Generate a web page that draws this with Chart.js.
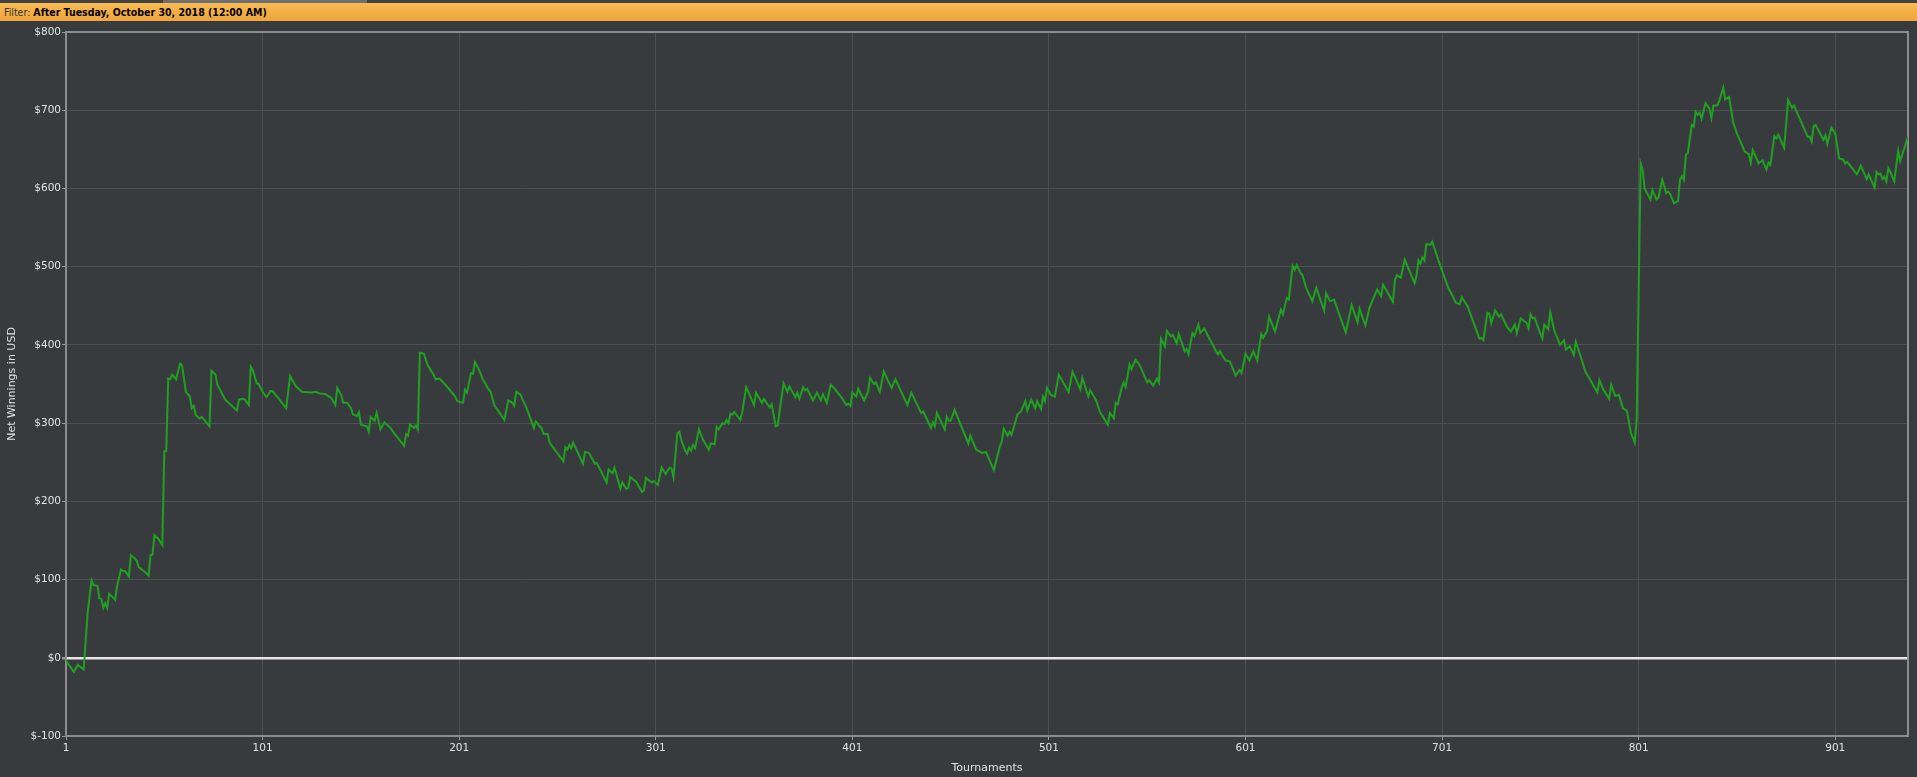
<!DOCTYPE html>
<html>
<head>
<meta charset="utf-8">
<script src="https://cdn.jsdelivr.net/npm/chart.js@4.4.1/dist/chart.umd.min.js"></script>
<style>
  html, body { margin: 0; padding: 0; background: #383b3e; overflow: hidden; }
  #wrap { position: absolute; left: 0; top: 0; width: 1917px; height: 777px; }
  #topstrip { position: absolute; left: 0; top: 0; width: 1917px; height: 3px; background: #3f4143; z-index: 3; }
  #topstrip .seg { position: absolute; left: 163px; top: 0; width: 204px; height: 3px; background: #6d6f71; }
  #filter { position: absolute; left: 0; top: 3px; width: 1917px; height: 18px; z-index: 2;
    background: linear-gradient(#f8bb52, #f0a43c); font-family: 'DejaVu Sans Condensed', 'DejaVu Sans', Verdana, sans-serif;
    font-stretch: condensed; font-size: 10.5px; line-height: 18px; color: #1a1a1a; padding-left: 4px; box-sizing: border-box; white-space: nowrap; }
  #filter b { font-weight: bold; color: #000; }
  #filter span { color: #333; }
  canvas { position: absolute; left: 0; top: 0; }
</style>
</head>
<body>
<div id="wrap">
  <div id="topstrip"><div class="seg"></div></div>
  <div id="filter"><span>Filter:</span> <b>After Tuesday, October 30, 2018 (12:00 AM)</b></div>
  <canvas id="c" width="1917" height="777"></canvas>
</div>
<script>
// ---- data ----
const tournaments = [
  1,5,7,10,12,14,15,17,18,19,20,21,22,23,26,27,29,30,31,33,34,36,37,38,41,43,44,45,46,48,50,51,52,53,54,55,57,59,60,62,64,65,66,67,69,70,74,75,77,78,82,88,89,91,92,94,95,96,98,99,101,103,
  105,106,108,113,115,117,118,121,126,128,130,133,136,138,139,141,142,144,146,147,149,150,151,154,155,156,158,159,161,163,166,168,173,174,175,176,178,179,180,181,183,185,188,189,191,194,199,200,203,204,205,207,208,209,211,
  213,216,217,219,220,224,226,228,229,230,232,235,239,240,243,244,246,247,254,255,256,257,258,259,264,265,267,270,271,276,277,279,280,283,284,286,287,288,291,294,295,296,299,300,302,304,306,308,309,310,312,313,314,316,
  317,318,319,320,321,323,325,328,329,331,332,333,335,336,337,338,339,340,341,344,345,347,351,352,355,356,359,360,362,363,366,368,369,372,373,374,376,377,378,381,383,385,386,388,390,392,396,398,399,400,401,403,404,407,409,410,412,413,415,417,
  419,421,423,429,431,436,437,441,442,443,444,448,449,450,451,453,460,461,464,467,469,473,476,477,478,480,481,482,485,487,489,490,492,494,495,497,498,499,500,502,504,506,511,513,517,518,521,522,
  525,527,528,531,532,534,535,536,538,539,540,542,543,545,547,551,552,554,556,557,558,560,561,563,564,566,567,570,571,572,574,575,577,578,580,586,587,588,589,591,593,596,598,599,601,603,605,607,609,610,612,613,616,619,620,622,623,625,626,627,629,
  630,632,635,637,641,642,644,646,652,655,658,659,662,664,666,668,670,671,676,677,678,680,682,687,688,689,690,691,692,693,695,696,699,704,708,710,711,714,720,721,722,724,725,726,728,730,731,734,
  736,738,739,741,744,745,746,747,748,750,752,753,755,756,758,761,763,764,766,768,769,772,774,776,780,781,783,786,787,789,791,793,795,797,799,800,802,803,804,807,808,810,811,813,815,816,817,819,821,822,823,824,825,826,828,829,830,831,832,833,835,837,838,839,841,842,
  844,845,847,849,851,855,857,858,859,862,864,866,867,868,870,871,872,875,877,879,880,887,888,889,890,891,895,896,897,899,901,903,905,906,907,908,912,914,917,918,921,922,923,924,925,926,927,928,929,931,933,934,938
];
const netWinnings = [
  -4,-18,-9,-15,57,99,93,92,76,75,64,70,64,82,74,92,113,111,111,104,131,127,124,116,110,105,131,132,157,152,144,264,264,357,356,362,356,376,374,340,334,319,322,310,306,308,296,367,362,349,330,316,330,331,330,323,372,368,351,350,340,333,
  341,341,335,319,360,351,347,340,339,340,338,337,332,323,345,336,326,326,319,311,309,314,298,296,289,308,303,313,292,301,294,287,271,286,284,298,294,297,292,390,389,374,362,356,357,349,334,328,326,343,339,364,363,378,369,
  356,343,340,322,319,304,329,326,322,340,337,321,294,302,293,286,286,275,251,269,266,272,268,275,248,263,262,248,249,224,241,236,243,216,224,216,217,231,225,212,214,230,224,226,221,243,235,243,242,231,287,289,278,265,
  261,269,265,272,268,292,279,266,274,273,295,292,300,299,304,300,312,311,314,304,314,346,323,339,326,331,320,324,296,297,351,340,347,333,339,331,346,342,344,329,339,329,337,326,349,344,331,323,325,322,339,334,344,329,340,358,350,352,340,366,
  355,345,356,323,339,313,315,294,301,296,313,292,308,303,303,317,274,284,266,262,263,240,270,276,293,284,289,285,311,316,328,316,330,319,328,318,334,328,345,336,334,362,340,366,343,358,334,342,
  329,314,310,298,313,306,326,324,345,352,346,375,369,381,375,352,355,348,357,352,408,398,418,411,413,402,414,392,395,388,415,411,426,415,421,392,388,392,387,380,379,361,368,364,389,380,392,380,414,409,418,436,417,445,439,460,458,501,496,502,492,
  489,472,456,473,444,466,456,458,416,451,429,446,425,447,459,471,462,477,455,483,489,486,509,479,489,508,504,512,508,529,528,532,509,474,454,452,461,449,408,409,406,441,440,428,444,436,439,423,
  417,426,415,434,428,421,439,434,435,421,408,426,420,442,419,400,406,394,398,387,404,381,365,357,339,355,343,331,349,335,336,319,316,288,275,306,632,624,600,586,598,586,588,611,594,596,593,581,584,611,616,611,643,645,681,679,698,694,697,689,709,702,690,706,706,712,
  729,714,717,685,670,647,644,633,649,632,636,624,633,630,667,664,669,652,713,703,706,666,666,660,680,681,662,668,657,678,670,638,637,632,634,631,618,629,612,618,601,621,618,619,612,615,609,626,621,609,648,635,666
];
const xTickValues = [1, 101, 201, 301, 401, 501, 601, 701, 801, 901];
const yTickValues = [-100, 0, 100, 200, 300, 400, 500, 600, 700, 800];
const xAxisTitle = 'Tournaments';
const yAxisTitle = 'Net Winnings in USD';

const points = tournaments.map((t, i) => ({ x: t, y: netWinnings[i] }));

const FONT = "'DejaVu Sans', Verdana, sans-serif";
Chart.defaults.font.family = FONT;
Chart.defaults.font.size = 10.5;
Chart.defaults.color = '#e2e2e2';

const frame = {
  id: 'frame',
  beforeDatasetsDraw(chart) {
    const { ctx, chartArea: a } = chart;
    ctx.save();
    ctx.strokeStyle = '#8c8c8c';
    ctx.lineWidth = 2;
    ctx.strokeRect(a.left, a.top, a.right - a.left, a.bottom - a.top);
    ctx.restore();
  }
};

new Chart(document.getElementById('c'), {
  type: 'line',
  data: {
    datasets: [{
      data: points,
      borderColor: '#20a020',
      borderWidth: 2,
      pointRadius: 0,
      tension: 0,
      fill: false
    }]
  },
  options: {
    responsive: false,
    animation: false,
    events: [],
    layout: { padding: { top: 32, right: 9, left: 0, bottom: 0 } },
    plugins: { legend: { display: false }, tooltip: { enabled: false } },
    scales: {
      x: {
        type: 'linear',
        min: 1,
        max: 938,
        afterBuildTicks(scale) { scale.ticks = xTickValues.map(v => ({ value: v })); },
        afterFit(scale) { scale.height = 41; },
        ticks: { color: '#e2e2e2', padding: 2, maxRotation: 0, autoSkip: false, callback: v => String(v) },
        grid: { color: '#4d5053', lineWidth: 1, tickLength: 4, tickColor: '#9a9a9a' },
        border: { display: false },
        title: { display: true, text: xAxisTitle, color: '#e2e2e2', font: { size: 11 }, padding: { top: 0, bottom: 2 } }
      },
      y: {
        type: 'linear',
        min: -100,
        max: 800,
        afterBuildTicks(scale) { scale.ticks = yTickValues.map(v => ({ value: v })); },
        afterFit(scale) { scale.width = 66; },
        ticks: { color: '#e2e2e2', padding: 1, callback: v => '$' + v },
        grid: {
          color: c => (c.tick && c.tick.value === 0) ? '#e6e6e6' : '#4d5053',
          lineWidth: c => (c.tick && c.tick.value === 0) ? 2.5 : 1,
          tickLength: 4,
          tickColor: '#9a9a9a'
        },
        border: { display: false },
        title: { display: true, text: yAxisTitle, color: '#e2e2e2', font: { size: 11 }, padding: { top: 5.5, bottom: 0 } }
      }
    }
  },
  plugins: [frame]
});
</script>
</body>
</html>
